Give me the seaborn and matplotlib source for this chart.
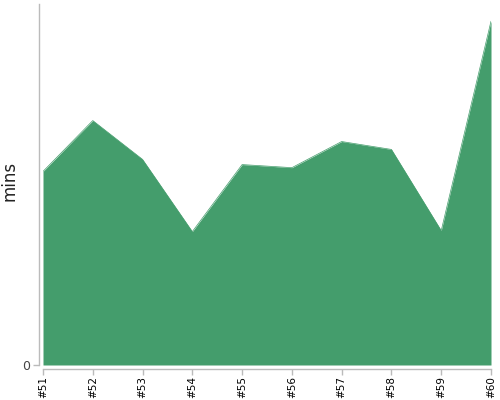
import pandas as pd
import numpy as np
import matplotlib
matplotlib.use('Agg')
import matplotlib.pyplot as plt
import seaborn as sns

# 数据
sessions = ['#51', '#52', '#53', '#54', '#55', '#56', '#57', '#58', '#59', '#60']
mins = [56.3, 71.1, 59.8, 38.8, 58.3, 57.4, 65.0, 62.7, 39.1, 100.0]

df = pd.DataFrame({'session': sessions, 'mins': mins})
df['pos'] = np.arange(len(df))

# 风格
sns.set_style('ticks')
green = '#449d6c'

fig = plt.figure(figsize=(5, 4), dpi=100)
ax = fig.add_axes([0.086, 0.0875, 0.896, 0.9025])

sns.lineplot(data=df, x='pos', y='mins', color=green, linewidth=0.5, ax=ax)
ax.fill_between(df['pos'], 0, df['mins'], color=green, linewidth=0)

ax.set_xlim(0, len(df) - 1)
ax.set_ylim(0, max(mins) * 1.05)
ax.set_xticks(df['pos'])
ax.set_xticklabels(df['session'])
ax.set_yticks([0])
ax.set_yticklabels(['0'])
ax.set_xlabel('')
ax.set_ylabel('mins', fontsize=12, color='#222222')
ax.yaxis.set_label_coords(-0.054, 0.51)

sns.despine(ax=ax, offset=3)
for s in ['left', 'bottom']:
    ax.spines[s].set_color('#bbbbbb')
    ax.spines[s].set_linewidth(1)
ax.tick_params(axis='both', color='#bbbbbb', length=4, width=1, pad=2)
ax.tick_params(axis='x', labelrotation=90, labelsize=7.5, labelcolor='black', pad=1)
ax.tick_params(axis='y', labelsize=9, labelcolor='#444444')

fig.savefig('out.png', dpi=100)
